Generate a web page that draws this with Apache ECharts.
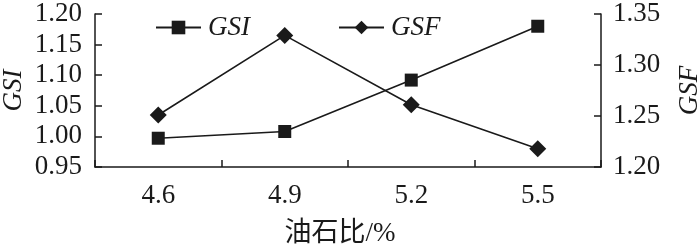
<!DOCTYPE html>
<html>
<head>
<meta charset="utf-8">
<script src="https://cdn.jsdelivr.net/npm/echarts@6/dist/echarts.min.js"></script>
<style>
html,body{margin:0;padding:0;background:#fff;}
#chart{width:700px;height:247px;}
</style>
</head>
<body>
<div id="chart"></div>
<script>
const categories = ['4.6', '4.9', '5.2', '5.5'];
const gsiValues = [0.997, 1.008, 1.092, 1.180];
const gsfValues = [1.251, 1.329, 1.261, 1.218];
const leftTicks = [0.95, 1.00, 1.05, 1.10, 1.15, 1.20];
const rightTicks = [1.20, 1.25, 1.30, 1.35];

const FONT = "'Liberation Serif', 'Times New Roman', 'Noto Sans CJK SC', serif";
const INK = '#1a1a1a';

const chart = echarts.init(document.getElementById('chart'), null, {renderer: 'canvas'});
chart.setOption({
  animation: false,
  backgroundColor: '#fff',
  textStyle: {fontFamily: FONT, color: INK},
  grid: {left: 95, right: 99, top: 14, bottom: 80, containLabel: false, outerBoundsMode: 'none'},
  legend: {
    left: 150,
    top: 9,
    itemWidth: 45,
    itemHeight: 17,
    itemGap: 88,
    textStyle: {fontFamily: FONT, fontSize: 27, fontStyle: 'italic', color: INK, padding: [0, 0, 0, 2]},
    data: ['GSI', 'GSF']
  },
  xAxis: {
    type: 'category',
    data: categories,
    boundaryGap: true,
    name: '油石比/%',
    nameLocation: 'middle',
    nameGap: 53,
    nameTextStyle: {fontFamily: FONT, fontSize: 27, color: INK, padding: [0, 16, 0, 0]},
    axisLine: {lineStyle: {color: INK, width: 1.5}},
    axisTick: {show: true, inside: true, length: 7, alignWithLabel: false, lineStyle: {color: INK, width: 1.5}},
    axisLabel: {fontFamily: FONT, fontSize: 27, color: INK, margin: 15},
    splitLine: {show: false}
  },
  yAxis: [
    {
      type: 'value',
      min: 0.95,
      max: 1.20,
      interval: 0.05,
      name: 'GSI',
      nameLocation: 'middle',
      nameRotate: 90,
      nameGap: 68,
      nameMoveOverlap: false,
      nameTextStyle: {fontFamily: FONT, fontSize: 27, fontStyle: 'italic', color: INK},
      axisLine: {show: true, lineStyle: {color: INK, width: 1.5}},
      axisTick: {show: true, inside: true, length: 7, lineStyle: {color: INK, width: 1.5}},
      axisLabel: {fontFamily: FONT, fontSize: 27, color: INK, margin: 13,
        formatter: v => leftTicks.find(t => Math.abs(t - v) < 1e-6).toFixed(2)},
      splitLine: {show: false}
    },
    {
      type: 'value',
      min: 1.20,
      max: 1.35,
      interval: 0.05,
      position: 'right',
      name: 'GSF',
      nameLocation: 'middle',
      nameRotate: 90,
      nameGap: 75,
      nameTextStyle: {fontFamily: FONT, fontSize: 27, fontStyle: 'italic', color: INK},
      axisLine: {show: true, lineStyle: {color: INK, width: 1.5}},
      axisTick: {show: true, inside: true, length: 7, lineStyle: {color: INK, width: 1.5}},
      axisLabel: {fontFamily: FONT, fontSize: 27, color: INK, margin: 12,
        formatter: v => rightTicks.find(t => Math.abs(t - v) < 1e-6).toFixed(2)},
      splitLine: {show: false}
    }
  ],
  series: [
    {
      name: 'GSI',
      type: 'line',
      yAxisIndex: 0,
      data: gsiValues,
      symbol: 'rect',
      symbolSize: 13,
      itemStyle: {color: INK},
      lineStyle: {color: INK, width: 1.6}
    },
    {
      name: 'GSF',
      type: 'line',
      yAxisIndex: 1,
      data: gsfValues,
      symbol: 'diamond',
      symbolSize: 17,
      itemStyle: {color: INK},
      lineStyle: {color: INK, width: 1.6}
    }
  ]
});
</script>
</body>
</html>
